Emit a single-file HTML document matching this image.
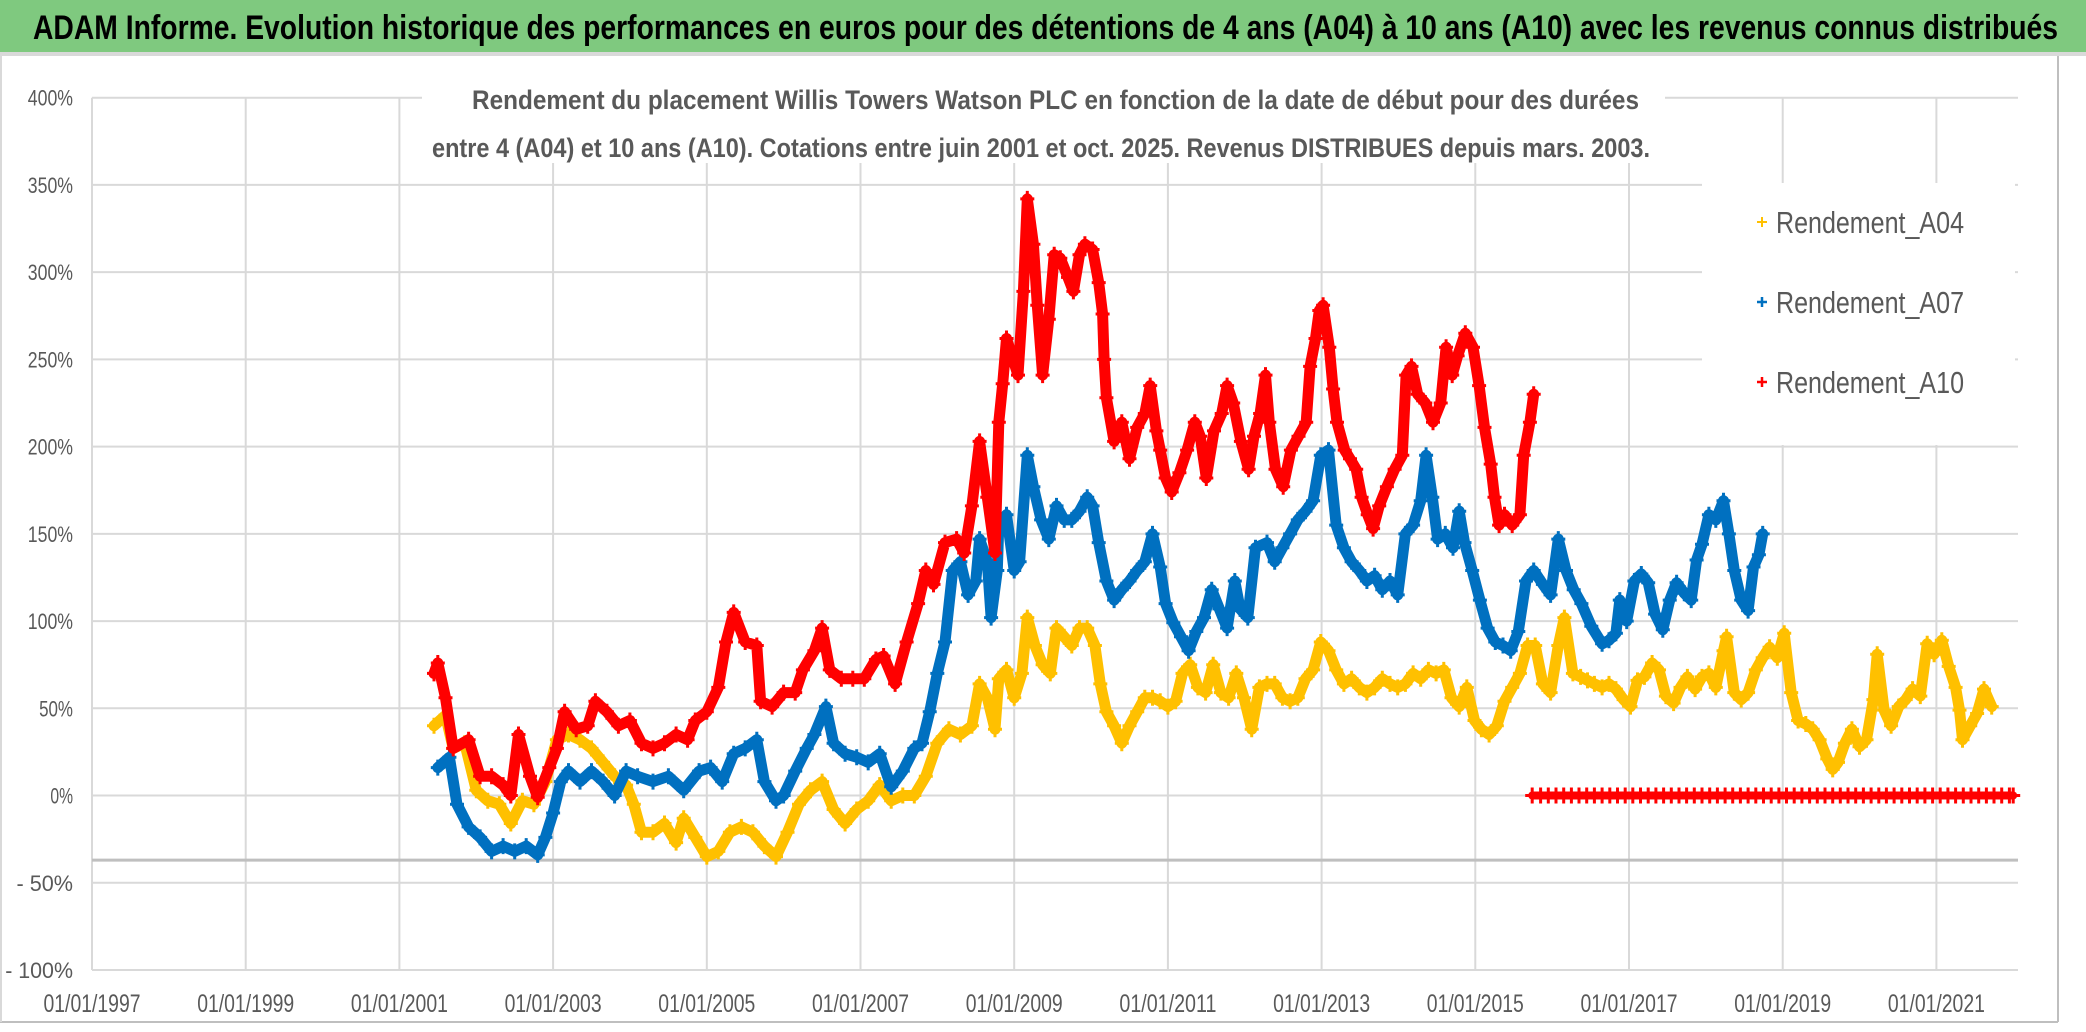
<!DOCTYPE html>
<html><head><meta charset="utf-8">
<style>
html,body{margin:0;padding:0;background:#fff;}
svg{display:block;font-family:"Liberation Sans",sans-serif;}
</style></head>
<body>
<svg id="chart" width="2086" height="1032" viewBox="0 0 2086 1032" xmlns="http://www.w3.org/2000/svg">
  <rect x="0" y="0" width="2086" height="1032" fill="#fff"/>
  <rect x="0" y="0" width="2086" height="52" fill="#7FC97F"/>
  <rect x="0" y="52" width="2086" height="4" fill="#d9d9d9"/>
  <text x="33" y="39" font-size="34" font-weight="bold" fill="#000" textLength="2025" lengthAdjust="spacingAndGlyphs">ADAM Informe. Evolution historique des performances en euros pour des détentions de 4 ans (A04) à 10 ans (A10) avec les revenus connus distribués</text>
  <line x1="2058" y1="56" x2="2058" y2="1022" stroke="#bfbfbf" stroke-width="2"/>
  <line x1="0" y1="1022" x2="2058" y2="1022" stroke="#bfbfbf" stroke-width="2"/>
  <line x1="1" y1="56" x2="1" y2="1022" stroke="#d9d9d9" stroke-width="2"/>
  <g id="grid"></g>
  <g id="axes"></g>
  <g id="series"></g>
  <rect x="422" y="62" width="1243" height="101" fill="#fff"/>
  <text x="472" y="109" font-size="27" font-weight="bold" fill="#595959" textLength="1167" lengthAdjust="spacingAndGlyphs">Rendement du placement Willis Towers Watson PLC en fonction de la date de début pour des durées</text>
  <text x="432" y="157" font-size="27" font-weight="bold" fill="#595959" textLength="1218" lengthAdjust="spacingAndGlyphs">entre 4 (A04) et 10 ans (A10). Cotations entre juin 2001 et oct. 2025. Revenus DISTRIBUES depuis mars. 2003.</text>
  <g>
    <rect x="1702" y="183" width="313" height="262" fill="#fff"/>
    <g>
      <path d="M1757 222h10M1762 217v10" stroke="#FFC000" stroke-width="2"/>
      <text x="1776" y="233" font-size="31" fill="#595959" textLength="188" lengthAdjust="spacingAndGlyphs">Rendement_A04</text>
    </g>
    <g>
      <path d="M1757 302h10M1762 297v10" stroke="#0070C0" stroke-width="2.5"/>
      <text x="1776" y="313" font-size="31" fill="#595959" textLength="188" lengthAdjust="spacingAndGlyphs">Rendement_A07</text>
    </g>
    <g>
      <path d="M1757 382h10M1762 377v10" stroke="#FF0000" stroke-width="2.5"/>
      <text x="1776" y="393" font-size="31" fill="#595959" textLength="188" lengthAdjust="spacingAndGlyphs">Rendement_A10</text>
    </g>
  </g>
</svg>
<script>
const yTicks = [400,350,300,250,200,150,100,50,0,-50,-100];
const yTickLabels = ["400%","350%","300%","250%","200%","150%","100%","50%","0%","- 50%","- 100%"];
const xTicks = [1997,1999,2001,2003,2005,2007,2009,2011,2013,2015,2017,2019,2021];
const xTickLabels = ["01/01/1997","01/01/1999","01/01/2001","01/01/2003","01/01/2005","01/01/2007","01/01/2009","01/01/2011","01/01/2013","01/01/2015","01/01/2017","01/01/2019","01/01/2021"];
const refLineValue = -37;

const a04Years = [2001.45,2001.60,2001.70,2001.85,2002.00,2002.15,2002.30,2002.45,2002.60,2002.75,2002.90,2003.05,2003.20,2003.35,2003.50,2003.65,2003.80,2003.95,2004.05,2004.15,2004.30,2004.45,2004.60,2004.70,2004.85,2005.00,2005.15,2005.30,2005.45,2005.60,2005.75,2005.90,2006.05,2006.20,2006.35,2006.50,2006.65,2006.80,2006.95,2007.10,2007.25,2007.40,2007.55,2007.70,2007.85,2008.00,2008.15,2008.30,2008.45,2008.55,2008.65,2008.75,2008.80,2008.90,2009.00,2009.10,2009.17,2009.27,2009.37,2009.47,2009.55,2009.65,2009.75,2009.85,2009.95,2010.05,2010.12,2010.20,2010.30,2010.40,2010.50,2010.60,2010.70,2010.80,2010.90,2011.00,2011.10,2011.19,2011.29,2011.39,2011.49,2011.59,2011.69,2011.79,2011.89,2011.99,2012.09,2012.19,2012.29,2012.39,2012.49,2012.59,2012.69,2012.79,2012.89,2012.99,2013.09,2013.19,2013.29,2013.39,2013.49,2013.59,2013.69,2013.79,2013.89,2013.99,2014.09,2014.19,2014.29,2014.39,2014.49,2014.59,2014.69,2014.79,2014.89,2014.99,2015.08,2015.18,2015.28,2015.38,2015.48,2015.58,2015.68,2015.78,2015.88,2015.98,2016.08,2016.16,2016.27,2016.37,2016.46,2016.55,2016.65,2016.74,2016.83,2016.93,2017.02,2017.11,2017.20,2017.30,2017.39,2017.48,2017.58,2017.67,2017.76,2017.86,2017.95,2018.04,2018.13,2018.23,2018.27,2018.37,2018.46,2018.55,2018.65,2018.74,2018.83,2018.93,2019.02,2019.11,2019.20,2019.30,2019.39,2019.48,2019.58,2019.65,2019.72,2019.81,2019.90,2020.00,2020.09,2020.18,2020.23,2020.32,2020.41,2020.51,2020.60,2020.69,2020.79,2020.88,2020.97,2021.07,2021.16,2021.25,2021.30,2021.34,2021.44,2021.53,2021.62,2021.72];
const a04Values = [40,46,27,30,3,-3,-5,-16,-3,-5,8,32,35,32,27,19,11,6,-5,-21,-21,-16,-27,-13,-24,-35,-32,-21,-18,-21,-29,-35,-21,-5,3,8,-8,-16,-8,-3,6,-3,0,0,11,30,38,35,40,64,56,38,67,72,56,70,102,86,75,70,96,91,86,96,96,86,64,48,40,30,40,48,56,56,54,51,54,70,75,62,59,75,59,56,70,56,38,62,64,64,56,54,56,67,72,88,83,72,64,67,62,59,62,67,64,62,64,70,67,72,70,72,56,51,62,43,38,35,40,54,62,70,86,86,64,59,86,102,70,68,66,64,62,64,61,55,51,66,68,76,72,57,53,62,68,61,68,70,62,83,91,59,55,59,72,79,85,79,93,59,43,41,38,32,21,15,19,30,38,28,32,55,81,49,40,51,55,61,57,87,81,89,74,62,49,32,40,47,61,51];

const a07Years = [2001.50,2001.65,2001.75,2001.90,2002.05,2002.20,2002.35,2002.50,2002.65,2002.80,2002.90,2003.00,2003.10,2003.20,2003.35,2003.50,2003.65,2003.80,2003.95,2004.10,2004.30,2004.50,2004.70,2004.90,2005.05,2005.20,2005.35,2005.50,2005.65,2005.75,2005.90,2006.00,2006.15,2006.30,2006.40,2006.55,2006.65,2006.80,2006.95,2007.10,2007.25,2007.40,2007.55,2007.70,2007.80,2007.90,2008.00,2008.10,2008.20,2008.30,2008.40,2008.50,2008.55,2008.65,2008.70,2008.78,2008.80,2008.90,2009.00,2009.07,2009.17,2009.25,2009.35,2009.45,2009.55,2009.65,2009.75,2009.85,2009.95,2010.02,2010.10,2010.20,2010.30,2010.40,2010.50,2010.60,2010.70,2010.80,2010.90,2010.97,2011.07,2011.17,2011.27,2011.37,2011.47,2011.57,2011.67,2011.77,2011.87,2011.94,2012.04,2012.14,2012.29,2012.39,2012.49,2012.59,2012.69,2012.79,2012.89,2012.99,2013.09,2013.19,2013.29,2013.39,2013.49,2013.59,2013.69,2013.79,2013.89,2013.99,2014.09,2014.19,2014.29,2014.36,2014.44,2014.51,2014.61,2014.71,2014.79,2014.86,2014.96,2015.06,2015.16,2015.26,2015.36,2015.46,2015.56,2015.66,2015.76,2015.88,2015.98,2016.08,2016.18,2016.28,2016.38,2016.51,2016.65,2016.74,2016.83,2016.88,2016.97,2017.07,2017.16,2017.25,2017.34,2017.44,2017.53,2017.62,2017.72,2017.81,2017.88,2017.95,2018.04,2018.13,2018.23,2018.30,2018.37,2018.46,2018.55,2018.62,2018.69,2018.74];
const a07Values = [16,22,-5,-18,-24,-32,-29,-32,-29,-34,-24,-10,8,14,8,14,8,0,14,11,8,11,3,14,16,8,24,27,32,8,-3,0,14,27,35,51,30,24,22,19,24,5,14,27,30,48,70,88,129,134,115,123,147,134,102,129,155,161,129,134,195,177,158,147,166,158,158,163,171,166,145,123,112,118,123,129,134,150,131,110,99,91,83,94,102,118,107,96,123,107,102,142,145,134,142,150,158,163,169,195,198,155,142,134,129,123,126,118,123,115,150,155,169,195,171,147,150,142,163,145,129,112,96,88,86,83,94,123,129,121,115,147,129,118,110,97,87,89,93,112,100,123,127,122,104,95,112,122,116,112,135,144,161,158,169,150,129,112,106,131,138,150];

const a10Years = [2001.45,2001.50,2001.60,2001.70,2001.90,2002.05,2002.20,2002.35,2002.45,2002.55,2002.70,2002.80,2002.95,2003.05,2003.15,2003.30,2003.45,2003.55,2003.70,2003.85,2004.00,2004.15,2004.30,2004.45,2004.60,2004.75,2004.85,2005.00,2005.15,2005.25,2005.35,2005.50,2005.65,2005.70,2005.85,2006.00,2006.15,2006.25,2006.40,2006.50,2006.60,2006.75,2006.90,2007.05,2007.20,2007.30,2007.45,2007.60,2007.75,2007.85,2007.95,2008.10,2008.25,2008.35,2008.45,2008.55,2008.65,2008.75,2008.80,2008.85,2008.90,2009.05,2009.12,2009.17,2009.25,2009.30,2009.37,2009.45,2009.52,2009.60,2009.70,2009.77,2009.85,2009.92,2010.02,2010.10,2010.15,2010.17,2010.20,2010.30,2010.40,2010.50,2010.60,2010.70,2010.77,2010.85,2010.90,2010.97,2011.05,2011.15,2011.25,2011.35,2011.42,2011.50,2011.60,2011.70,2011.77,2011.85,2011.95,2012.05,2012.12,2012.20,2012.27,2012.32,2012.40,2012.50,2012.60,2012.70,2012.80,2012.85,2012.92,2012.97,2013.02,2013.10,2013.15,2013.20,2013.30,2013.37,2013.45,2013.52,2013.60,2013.67,2013.75,2013.85,2013.95,2014.05,2014.10,2014.17,2014.25,2014.35,2014.45,2014.55,2014.62,2014.70,2014.77,2014.87,2014.97,2015.05,2015.12,2015.20,2015.25,2015.31,2015.38,2015.48,2015.58,2015.63,2015.71,2015.76];
const a10Values = [70,76,56,27,32,11,11,6,0,35,11,-1,16,27,48,38,40,54,48,40,43,30,27,30,35,32,43,48,62,88,105,88,86,54,51,59,59,72,83,96,72,67,67,67,78,80,64,88,110,129,121,145,147,139,166,203,171,139,214,236,262,241,289,342,316,281,241,273,310,308,297,289,310,316,313,294,276,250,228,203,214,193,211,219,235,209,198,182,174,185,198,214,206,182,209,219,235,225,203,187,206,219,241,214,187,177,198,206,214,246,262,278,281,257,233,214,198,193,187,171,161,153,166,177,187,195,241,246,230,225,214,225,257,241,252,265,257,235,211,190,171,155,161,155,161,195,214,230];

const a10ZeroYears = [2015.74,2015.85,2015.95,2016.05,2016.15,2016.25,2016.35,2016.45,2016.55,2016.65,2016.75,2016.85,2016.95,2017.05,2017.15,2017.25,2017.35,2017.45,2017.55,2017.65,2017.75,2017.85,2017.95,2018.05,2018.15,2018.25,2018.35,2018.45,2018.55,2018.65,2018.75,2018.85,2018.95,2019.05,2019.15,2019.25,2019.35,2019.45,2019.55,2019.65,2019.75,2019.85,2019.95,2020.05,2020.15,2020.25,2020.35,2020.45,2020.55,2020.65,2020.75,2020.85,2020.95,2021.05,2021.15,2021.25,2021.35,2021.45,2021.55,2021.65,2021.75,2021.85,2021.95,2022.00];
const a10ZeroValues = [0,0,0,0,0,0,0,0,0,0,0,0,0,0,0,0,0,0,0,0,0,0,0,0,0,0,0,0,0,0,0,0,0,0,0,0,0,0,0,0,0,0,0,0,0,0,0,0,0,0,0,0,0,0,0,0,0,0,0,0,0,0,0,0];

const NS = "http://www.w3.org/2000/svg";
const plotL = 92, plotR = 2018;
function xScale(yr){ return 92 + (yr - 1997) * 76.85; }
function yScale(v){ return 970 - (v + 100) * 1.7446; }
function mk(tag, attrs, parent){ const e = document.createElementNS(NS, tag); for (const k in attrs) e.setAttribute(k, attrs[k]); parent.appendChild(e); return e; }

const grid = document.getElementById('grid');
const axes = document.getElementById('axes');
yTicks.forEach((v, i) => {
  const y = yScale(v);
  const gl = mk('line', {x1: plotL, x2: plotR, y1: y, y2: y, stroke: '#d9d9d9', 'stroke-width': 2}, grid);
  
  
  const t = mk('text', {x: 73, y: y + 8, 'font-size': 22, fill: '#595959', 'text-anchor': 'end', textLength: yTickLabels[i].length * 11.3, lengthAdjust: 'spacingAndGlyphs'}, axes);
  t.textContent = yTickLabels[i];
  
  
});
xTicks.forEach((yr, i) => {
  const x = xScale(yr);
  const gl = mk('line', {x1: x, x2: x, y1: yScale(400), y2: yScale(-100), stroke: '#d9d9d9', 'stroke-width': 2}, grid);
  
  
  const t = mk('text', {x: x, y: 1012, 'font-size': 25, fill: '#595959', 'text-anchor': 'middle', textLength: 97, lengthAdjust: 'spacingAndGlyphs'}, axes);
  t.textContent = xTickLabels[i];
  
  
});
const ref = mk('line', {x1: plotL, x2: plotR, y1: yScale(refLineValue), y2: yScale(refLineValue), stroke: '#bfbfbf', 'stroke-width': 3}, grid);



const seriesG = document.getElementById('series');
function drawSeries(years, values, color, name, lineW){
  const g = mk('g', {}, seriesG);
  
  
  const pts = years.map((yr, i) => xScale(yr).toFixed(1) + ',' + yScale(values[i]).toFixed(1)).join(' ');
  const pl = mk('polyline', {points: pts, fill: 'none', stroke: color, 'stroke-width': lineW, 'stroke-linejoin': 'round', 'stroke-linecap': 'round'}, g);
  
  
  let d = '';
  years.forEach((yr, i) => {
    const x = xScale(yr), y = yScale(values[i]);
    d += 'M' + (x - 7).toFixed(1) + ' ' + y.toFixed(1) + 'h14M' + x.toFixed(1) + ' ' + (y - 8).toFixed(1) + 'v16';
  });
  const p = mk('path', {d: d, stroke: color, 'stroke-width': 3, fill: 'none'}, g);
  
  
}
drawSeries(a04Years, a04Values, '#FFC000', 'series-a04', 11);
drawSeries(a07Years, a07Values, '#0070C0', 'series-a07', 11);
drawSeries(a10Years, a10Values, '#FF0000', 'series-a10', 11);
drawSeries(a10ZeroYears, a10ZeroValues, '#FF0000', 'series-a10-zero', 8);
</script>
</body></html>
